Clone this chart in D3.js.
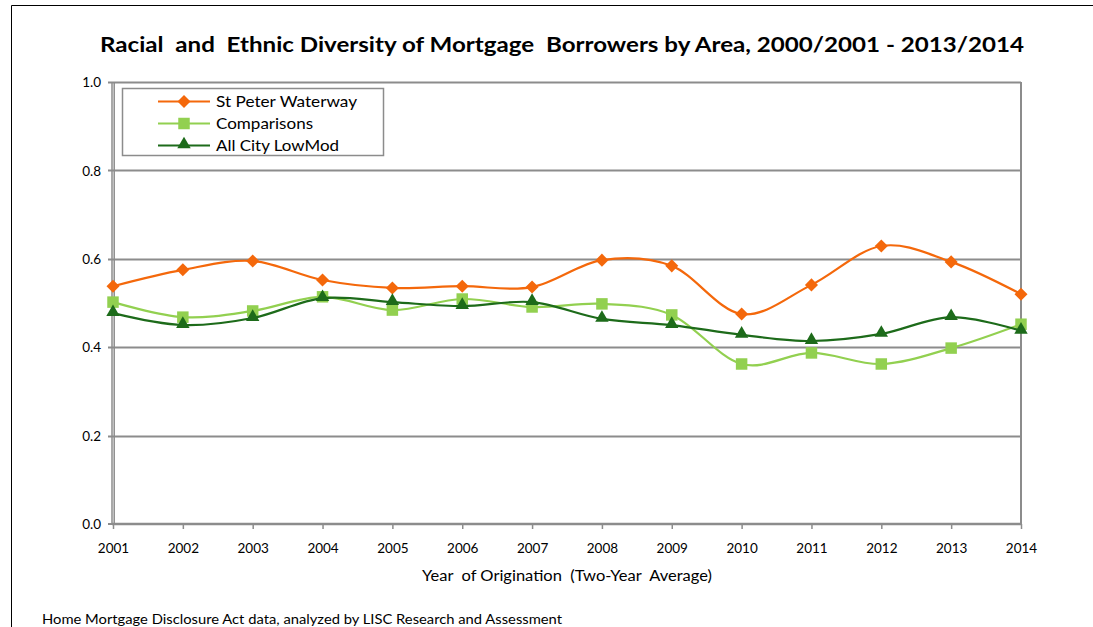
<!DOCTYPE html>
<html>
<head>
<meta charset="utf-8">
<script src="https://cdn.jsdelivr.net/npm/d3@7"></script>
<style>
  html, body { margin: 0; padding: 0; background: #fff; }
  svg { display: block; }
  text { font-family: Lato, "Open Sans", "Liberation Sans", sans-serif; fill: #000; }
</style>
</head>
<body>
<svg id="chart" width="1093" height="627"></svg>
<script>
const years = [2001, 2002, 2003, 2004, 2005, 2006, 2007, 2008, 2009, 2010, 2011, 2012, 2013, 2014];
const stPeter = [0.538, 0.575, 0.595, 0.552, 0.534, 0.538, 0.536, 0.597, 0.584, 0.475, 0.541, 0.629, 0.593, 0.520];
const comparisons = [0.502, 0.468, 0.482, 0.514, 0.484, 0.509, 0.491, 0.498, 0.473, 0.362, 0.387, 0.362, 0.398, 0.452];
const allCity = [0.477, 0.450, 0.466, 0.511, 0.502, 0.493, 0.502, 0.464, 0.450, 0.428, 0.414, 0.430, 0.468, 0.437];
const yTicks = [0.0, 0.2, 0.4, 0.6, 0.8, 1.0];
const seriesNames = ["St Peter Waterway", "Comparisons", "All City LowMod"];
const titleText = "Racial  and  Ethnic Diversity of Mortgage  Borrowers by Area, 2000/2001 - 2013/2014";
const xTitleText = "Year  of Origination  (Two-Year  Average)";
const sourceText = "Home Mortgage Disclosure Act data, analyzed by LISC Research and Assessment";

const series = [
  { name: seriesNames[0], values: stPeter, color: "#F4680B", marker: "diamond", textLen: 141 },
  { name: seriesNames[1], values: comparisons, color: "#92D050", marker: "square", textLen: 97 },
  { name: seriesNames[2], values: allCity, color: "#1D6B1A", marker: "triangle", textLen: 123 }
];

const svg = d3.select("#chart");
const pLeft = 113, pRight = 1021, pTop = 82, pBottom = 524;

const x = d3.scaleLinear().domain([years[0], years[years.length - 1]]).range([pLeft, pRight]);
const y = d3.scaleLinear().domain([0, 1]).range([pBottom, pTop]);

// outer frame
svg.append("path").attr("d", "M11.5,627 L11.5,5.5 L1093,5.5")
  .attr("fill", "none").attr("stroke", "#000").attr("stroke-width", 1);

// title
svg.append("text").attr("x", 562).attr("y", 52).attr("text-anchor", "middle")
  .attr("font-size", 20.5).attr("font-weight", "bold")
  .attr("textLength", 924).attr("lengthAdjust", "spacingAndGlyphs")
  .style("white-space", "pre").text(titleText);

// gridlines
svg.append("g").selectAll("line").data(yTicks.filter(d => d > 0)).join("line")
  .attr("x1", pLeft - 5).attr("x2", pRight)
  .attr("y1", d => Math.round(y(d)) + 0.5).attr("y2", d => Math.round(y(d)) + 0.5)
  .attr("stroke", "#8c8c8c").attr("stroke-width", 2);

// right border
svg.append("line").attr("x1", pRight).attr("x2", pRight).attr("y1", pTop).attr("y2", pBottom)
  .attr("stroke", "#8c8c8c").attr("stroke-width", 2);

// y axis labels
const yAxis = d3.axisLeft(y).tickValues(yTicks).tickFormat(d3.format(".1f")).tickSize(0).tickPadding(12);
const gy = svg.append("g").attr("transform", `translate(${pLeft},0)`).call(yAxis);
gy.select(".domain").remove();
gy.selectAll("text").attr("font-size", 13.5).attr("font-family", "Lato, sans-serif").attr("dy", "0.35em");

// y axis line (double)
svg.append("line").attr("x1", pLeft - 1).attr("x2", pLeft - 1).attr("y1", pTop).attr("y2", pBottom)
  .attr("stroke", "#8c8c8c").attr("stroke-width", 1.5);
svg.append("line").attr("x1", pLeft + 1.2).attr("x2", pLeft + 1.2).attr("y1", pTop).attr("y2", pBottom)
  .attr("stroke", "#8c8c8c").attr("stroke-width", 1.5);
svg.append("line").attr("x1", pLeft - 5).attr("x2", pLeft).attr("y1", pBottom).attr("y2", pBottom)
  .attr("stroke", "#8c8c8c").attr("stroke-width", 2);

// x axis
const xAxis = d3.axisBottom(x).tickValues(years).tickFormat(d3.format("d")).tickSize(5).tickPadding(14);
const gx = svg.append("g").attr("transform", `translate(0,${pBottom})`).call(xAxis);
gx.select(".domain").remove();
gx.selectAll(".tick line").attr("stroke", "#8c8c8c").attr("stroke-width", 1.5);
gx.selectAll("text").attr("font-size", 13.5).attr("font-family", "Lato, sans-serif");
svg.append("line").attr("x1", pLeft - 1).attr("x2", pRight + 1).attr("y1", pBottom).attr("y2", pBottom)
  .attr("stroke", "#8c8c8c").attr("stroke-width", 2.5);

// axis title
svg.append("text").attr("x", 567).attr("y", 581).attr("text-anchor", "middle")
  .attr("font-size", 14.5).attr("textLength", 290).attr("lengthAdjust", "spacingAndGlyphs")
  .style("white-space", "pre").text(xTitleText);

// source
svg.append("text").attr("x", 42).attr("y", 624).attr("font-size", 13)
  .attr("textLength", 520).attr("lengthAdjust", "spacingAndGlyphs").text(sourceText);

// series
const line = d3.line().x((d, i) => x(years[i])).y(d => y(d)).curve(d3.curveCatmullRom.alpha(0));
const symbolFor = {
  diamond: d3.symbol().type(d3.symbolSquare).size(85),
  square: d3.symbol().type(d3.symbolSquare).size(132),
  triangle: d3.symbol().type(d3.symbolTriangle).size(78)
};
const rotFor = { diamond: 45, square: 0, triangle: 0 };
const offFor = { diamond: 0, square: 0, triangle: -1 };

series.forEach(s => {
  const g = svg.append("g");
  g.append("path").datum(s.values).attr("d", line)
    .attr("fill", "none").attr("stroke", s.color).attr("stroke-width", 2.2);
  g.selectAll("path.m").data(s.values).join("path").attr("class", "m")
    .attr("d", symbolFor[s.marker]())
    .attr("transform", (d, i) => `translate(${x(years[i])},${y(d) + offFor[s.marker]}) rotate(${rotFor[s.marker]})`)
    .attr("fill", s.color);
});

// legend
const lg = svg.append("g");
lg.append("rect").attr("x", 122.5).attr("y", 88.5).attr("width", 261).attr("height", 67)
  .attr("fill", "#fff").attr("stroke", "#8c8c8c").attr("stroke-width", 1.5);
series.forEach((s, i) => {
  const cy = 101.5 + i * 22;
  lg.append("line").attr("x1", 158).attr("x2", 210).attr("y1", cy).attr("y2", cy)
    .attr("stroke", s.color).attr("stroke-width", 2.2);
  lg.append("path").attr("d", symbolFor[s.marker]())
    .attr("transform", `translate(184,${cy + offFor[s.marker]}) rotate(${rotFor[s.marker]})`)
    .attr("fill", s.color);
  lg.append("text").attr("x", 216).attr("y", cy).attr("dy", "0.35em")
    .attr("font-size", 15).attr("textLength", s.textLen).attr("lengthAdjust", "spacingAndGlyphs")
    .text(s.name);
});
</script>
</body>
</html>
